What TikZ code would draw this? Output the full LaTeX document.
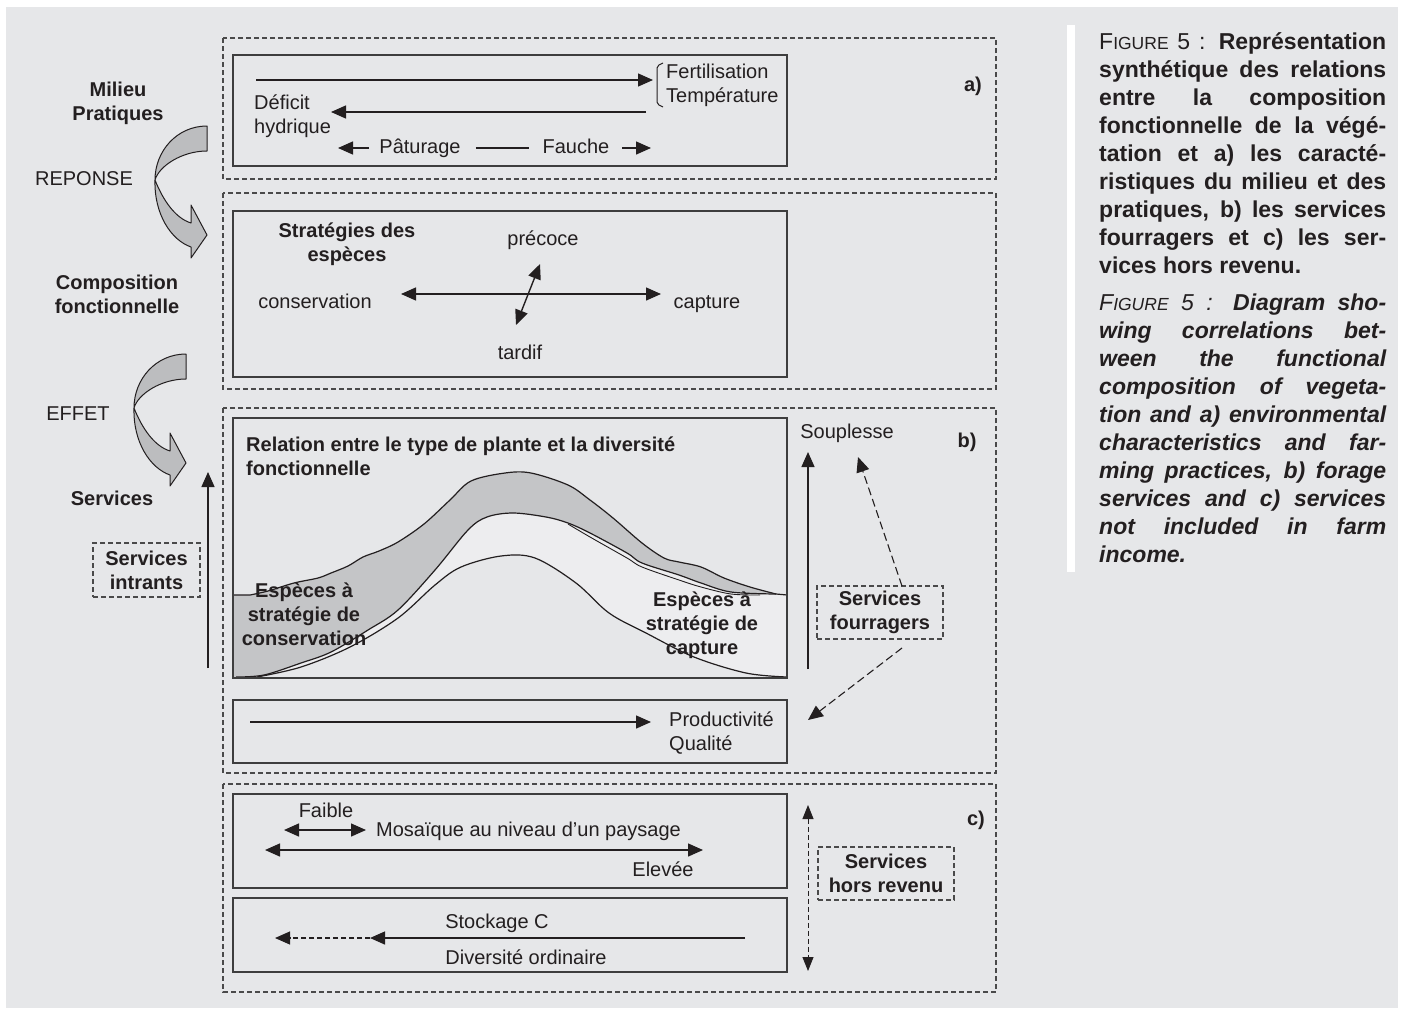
\documentclass[tikz,border=0pt]{standalone}
\usepackage{fontspec}
\setmainfont{Liberation Sans}
\usetikzlibrary{arrows.meta}
\definecolor{bg}{HTML}{E6E7E9}
\definecolor{ink}{HTML}{231F20}
\definecolor{boxline}{HTML}{3E3E3E}
\definecolor{dashline}{HTML}{4A4A4A}
\definecolor{band}{HTML}{C4C5C7}
\definecolor{lightreg}{HTML}{EDEDEF}
\definecolor{arrowfill}{HTML}{BCBDBF}
\newcommand{\dfont}{\fontsize{20}{24}\selectfont}
\newcommand{\cfont}{\fontsize{23}{28}\selectfont}
\newcommand{\smc}[1]{{\fontsize{17.5}{20}\selectfont #1}}
\newcommand{\capl}[1]{\hbox to 287pt{#1}}
\begin{document}
\begin{tikzpicture}[x=1pt,y=-1pt,
  panel/.style={draw=dashline, line width=1.2pt, dash pattern=on 5pt off 3pt},
  frame/.style={draw=boxline, line width=1.8pt},
  lbl/.style={font=\dfont, text=ink, inner sep=0pt, text height=14.5pt, text depth=4.2pt},
  blbl/.style={font=\dfont\bfseries, text=ink, inner sep=0pt, align=center},
  dbox/.style={blbl, draw=dashline, line width=1.1pt, dash pattern=on 5pt off 3pt},
  arr/.style={draw=ink, line width=1.4pt, -{Triangle[length=15pt,width=13pt]}},
  darr/.style={draw=ink, line width=1.4pt, {Triangle[length=15pt,width=13pt]}-{Triangle[length=15pt,width=13pt]}},
  dasharr/.style={draw=ink, line width=1.1pt, dash pattern=on 8pt off 4pt, -{Triangle[length=15pt,width=13pt]}},
  curve/.style={draw=ink, line width=1.2pt},
  caplbl/.style={font=\cfont, text=ink, inner sep=0pt, anchor=base west},
  curvarrow/.pic={
    \filldraw[fill=arrowfill, draw=ink, line width=1pt, line join=round]
      (0,0) .. controls (-30,0) and (-52,25) .. (-52,54)
      .. controls (-48,40) and (-25,25) .. (0,25) -- cycle;
    \filldraw[fill=arrowfill, draw=ink, line width=1pt, line join=round]
      (-52,54) .. controls (-44,74) and (-32,92) .. (-16,97)
      -- (-16,79) -- (0,109) -- (-16,132) -- (-16,121)
      .. controls (-36,114) and (-53,88) .. (-52,54) -- cycle;
  }
]
\useasboundingbox (0,0) rectangle (1405,1010);
\fill[white] (0,0) rectangle (1405,1010);
\fill[bg] (6,7) rectangle (1398,1008);
\fill[white] (1067,25) rectangle (1075,572);

% ---------- left column ----------
\node[blbl] (mil) at (118,103) {Milieu\\Pratiques};
\node[lbl] (rep) at (84,180) {REPONSE};
\node[blbl] (comp) at (117,294) {Composition\\fonctionnelle};
\node[lbl] (eff) at (78,415) {EFFET};
\node[blbl] (serv) at (112,498) {Services};
\node[dbox, minimum width=107pt, minimum height=54pt] (sint) at (146.5,570) {Services\\intrants};
\pic at (207,126) {curvarrow};
\pic at (186,354) {curvarrow};
\coordinate (upa) at (208,668); \coordinate (upb) at (208,472);
\draw[arr] (upa) -- (upb);

% ---------- panel a ----------
\draw[panel] (223,38) rectangle (996,179);
\draw[frame] (233,55) rectangle (787,166);
\coordinate (a1s) at (256,80); \coordinate (a1e) at (653,80);
\draw[arr] (a1s) -- (a1e);
\draw[ink, line width=1pt, rounded corners=2pt] (663,63) -- (657,66) -- (657,104) -- (663,107);
\node[lbl, anchor=west] (fert) at (666,73) {Fertilisation};
\node[lbl, anchor=west] (temp) at (666,97) {Température};
\coordinate (a2s) at (646,112); \coordinate (a2e) at (331,112);
\draw[arr] (a2s) -- (a2e);
\node[lbl, anchor=west] (def) at (254,104) {Déficit};
\node[lbl, anchor=west] (hyd) at (254,128) {hydrique};
\node[lbl] (patu) at (420,148) {Pâturage};
\node[lbl] (fau) at (576,148) {Fauche};
\coordinate (pa1) at (369,148); \coordinate (pa2) at (338,148);
\draw[arr] (pa1) -- (pa2);
\draw[ink, line width=1.2pt] ([xshift=15pt]patu.east) -- ([xshift=-13pt]fau.west);
\coordinate (fa1) at (622,148); \coordinate (fa2) at (651,148);
\draw[arr] (fa1) -- (fa2);
\node[blbl] (la) at (973,86) {a)};

% ---------- strategies ----------
\draw[panel] (223,193) rectangle (996,389);
\draw[frame] (233,211) rectangle (787,377);
\node[blbl] (strat) at (347,244) {Stratégies des\\espèces};
\node[lbl] (prec) at (543,240) {précoce};
\node[lbl] (cons) at (315,303) {conservation};
\node[lbl] (capt) at (707,303) {capture};
\node[lbl] (tard) at (520,354) {tardif};
\coordinate (h1) at (401,294); \coordinate (h2) at (661,294);
\draw[darr] (h1) -- (h2);
\coordinate (v1) at (540,264); \coordinate (v2) at (516,325);
\draw[darr] (v1) -- (v2);

% ---------- panel b ----------
\draw[panel] (223,408) rectangle (996,773);
\fill[lightreg] plot[smooth,tension=0.55] coordinates {(236,677) (264,675) (301,663) (331,652) (368,630) (398,610) (435,570) (468,530) (487,517) (513,513) (546,517) (568,523) (590,533) (627,553) (642,563) (679,575) (701,583) (731,592) (776,594)} -- (787,595) -- (787,678) -- (233,678) -- cycle;
\fill[bg] plot[smooth,tension=0.55] coordinates {(257,677) (301,667) (350,647) (398,618) (435,585) (461,567) (501,556) (535,558) (576,583) (609,613) (646,633) (694,657) (746,673) (787,677)} -- cycle;
\fill[band] (233,595) -- (250,595) -- plot[smooth,tension=0.55] coordinates {(250,595) (268,591) (294,583) (318,578) (331,573) (348,566) (363,557) (379,551) (398,542) (424,524) (450,500) (471,481) (505,473) (531,473) (568,485) (590,500) (613,518) (642,543) (664,558) (679,562) (701,567) (724,578) (750,587) (776,594)} -- plot[smooth,tension=0.55] coordinates {(776,594) (731,592) (701,583) (679,575) (642,563) (627,553) (590,533) (568,523) (546,517) (513,513) (487,517) (468,530) (435,570) (398,610) (368,630) (331,652) (301,663) (264,675) (236,677)} -- (233,678) -- cycle;
\draw[curve] (233,595) -- (250,595) -- plot[smooth,tension=0.55] coordinates {(250,595) (268,591) (294,583) (318,578) (331,573) (348,566) (363,557) (379,551) (398,542) (424,524) (450,500) (471,481) (505,473) (531,473) (568,485) (590,500) (613,518) (642,543) (664,558) (679,562) (701,567) (724,578) (750,587) (776,594)} -- (787,595);
\draw[curve] plot[smooth,tension=0.55] coordinates {(236,677) (264,675) (301,663) (331,652) (368,630) (398,610) (435,570) (468,530) (487,517) (513,513) (546,517) (568,523) (590,533) (627,553) (642,563) (679,575) (701,583) (731,592) (776,594)};
\draw[curve, line width=0.9pt] plot[smooth,tension=0.55] coordinates {(568,524) (590,537) (627,558) (642,567) (679,580) (701,587) (731,594) (760,595)};
\draw[curve] plot[smooth,tension=0.55] coordinates {(257,677) (301,667) (350,647) (398,618) (435,585) (461,567) (501,556) (535,558) (576,583) (609,613) (646,633) (694,657) (746,673) (787,677)};
\draw[frame] (233,418) rectangle (787,678);
\node[blbl, align=left, anchor=west] (rel) at (246,456) {Relation entre le type de plante et la diversité\\fonctionnelle};
\node[blbl] (econs) at (304,614) {Espèces à\\stratégie de\\conservation};
\node[blbl] (ecapt) at (702,625) {Espèces à\\stratégie de\\capture};
\coordinate (sua) at (808,669); \coordinate (sub) at (808,452);
\draw[arr] (sua) -- (sub);
\node[lbl] (soup) at (847,433) {Souplesse};
\node[blbl] (lb) at (967,442) {b)};
\node[dbox, minimum width=126pt, minimum height=53pt] (sf) at (880,612.5) {Services\\fourragers};
\coordinate (sf1) at (902,586); \coordinate (sf1t) at (858,457);
\draw[dasharr] (sf1) -- (sf1t);
\coordinate (sf2) at (902,648); \coordinate (sf2t) at (808,720);
\draw[dasharr] (sf2) -- (sf2t);
\draw[frame] (233,700) rectangle (787,763);
\coordinate (p1) at (250,722); \coordinate (p2) at (651,722);
\draw[arr] (p1) -- (p2);
\node[lbl, anchor=west] (prod) at (669,721) {Productivité};
\node[lbl, anchor=west] (qual) at (669,745) {Qualité};

% ---------- panel c ----------
\draw[panel] (223,784) rectangle (996,992);
\draw[frame] (233,794) rectangle (787,888);
\draw[frame] (233,898) rectangle (787,972);
\node[lbl] (faib) at (326,812) {Faible};
\coordinate (f1) at (284,830); \coordinate (f2) at (366,830);
\draw[darr] (f1) -- (f2);
\node[lbl, anchor=west] (mos) at (376,831) {Mosaïque au niveau d’un paysage};
\coordinate (m1) at (265,850); \coordinate (m2) at (703,850);
\draw[darr] (m1) -- (m2);
\node[lbl] (elev) at (663,871) {Elevée};
\node[lbl] (stock) at (497,923) {Stockage C};
\node[lbl] (divo) at (526,959) {Diversité ordinaire};
\coordinate (s1) at (745,938); \coordinate (s2) at (370,938); \coordinate (s3) at (275,938);
\draw[arr] (s1) -- (s2);
\draw[draw=ink, line width=1.1pt, dash pattern=on 5pt off 3pt, -{Triangle[length=15pt,width=13pt]}] (s2) -- (s3);
\coordinate (vv1) at (808,805); \coordinate (vv2) at (808,971);
\draw[draw=ink, line width=0.9pt, dash pattern=on 5pt off 3pt, {Triangle[length=14pt,width=11pt]}-{Triangle[length=14pt,width=11pt]}] (vv1) -- (vv2);
\node[dbox, minimum width=136pt, minimum height=53pt] (shr) at (886,873.5) {Services\\hors revenu};
\node[blbl] (lc) at (976,820) {c)};

% ---------- caption ----------
\node[caplbl] (cf1) at (1099,49) {\capl{F\smc{IGURE} 5 : \textbf{Représentation}}};
\node[caplbl] (cf2) at (1099,77) {\capl{\bfseries synthétique des relations}};
\node[caplbl] (cf3) at (1099,105) {\capl{\bfseries entre la composition}};
\node[caplbl] (cf4) at (1099,133) {\capl{\bfseries fonctionnelle de la végé-}};
\node[caplbl] (cf5) at (1099,161) {\capl{\bfseries tation et a) les caracté-}};
\node[caplbl] (cf6) at (1099,189) {\capl{\bfseries ristiques du milieu et des}};
\node[caplbl] (cf7) at (1099,217) {\capl{\bfseries pratiques, b) les services}};
\node[caplbl] (cf8) at (1099,245) {\capl{\bfseries fourragers et c) les ser-}};
\node[caplbl] (cf9) at (1099,273) {\bfseries vices hors revenu.};
\node[caplbl] (ce1) at (1099,310) {\capl{\itshape F\smc{IGURE} 5 : \textbf{Diagram sho-}}};
\node[caplbl] (ce2) at (1099,338) {\capl{\bfseries\itshape wing correlations bet-}};
\node[caplbl] (ce3) at (1099,366) {\capl{\bfseries\itshape ween the functional}};
\node[caplbl] (ce4) at (1099,394) {\capl{\bfseries\itshape composition of vegeta-}};
\node[caplbl] (ce5) at (1099,422) {\capl{\bfseries\itshape tion and a) environmental}};
\node[caplbl] (ce6) at (1099,450) {\capl{\bfseries\itshape characteristics and far-}};
\node[caplbl] (ce7) at (1099,478) {\capl{\bfseries\itshape ming practices, b) forage}};
\node[caplbl] (ce8) at (1099,506) {\capl{\bfseries\itshape services and c) services}};
\node[caplbl] (ce9) at (1099,534) {\capl{\bfseries\itshape not included in farm}};
\node[caplbl] (ce10) at (1099,562) {\bfseries\itshape income.};
\end{tikzpicture}
\end{document}
